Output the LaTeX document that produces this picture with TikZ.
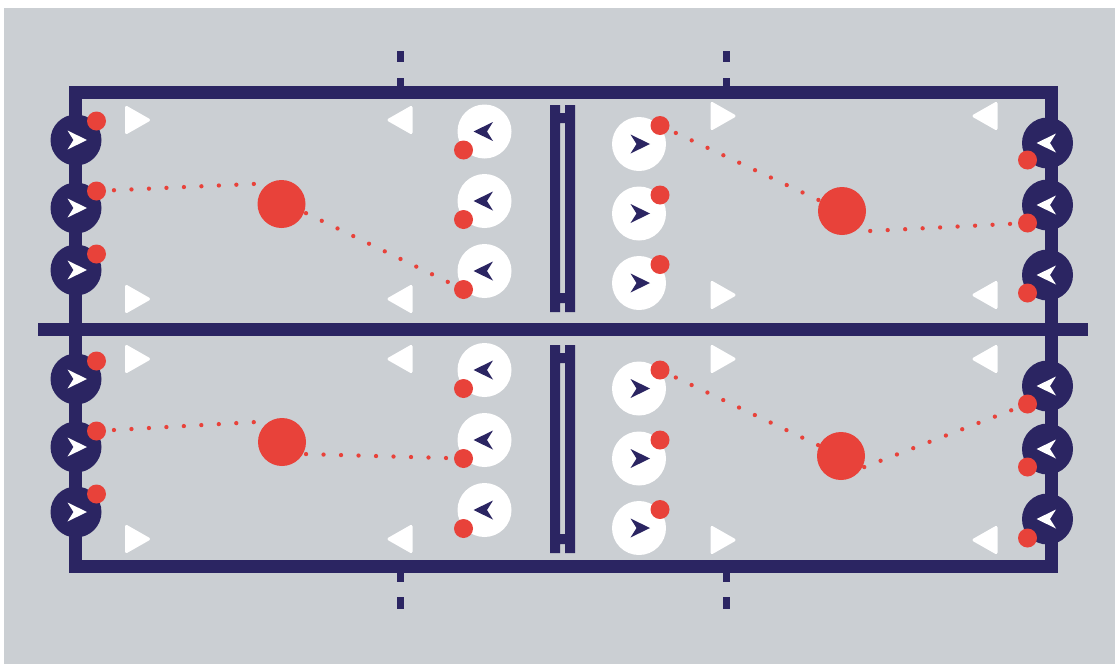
\documentclass[tikz,border=0pt]{standalone}
\definecolor{pitch}{HTML}{CBCFD3}
\definecolor{navy}{HTML}{2B2562}
\definecolor{hot}{HTML}{E8423A}
\pgfdeclarelayer{ground}
\pgfdeclarelayer{passes}
\pgfsetlayers{ground,passes,main}
\tikzset{
  fieldline/.style={draw=navy, line width=13pt},
  tickmark/.style={draw=navy, line width=7pt},
  darkplayer/.style={circle, fill=navy, minimum size=51pt, inner sep=0pt, outer sep=0pt},
  lightplayer/.style={circle, fill=white, minimum size=54pt, inner sep=0pt, outer sep=0pt},
  tag/.style={circle, fill=hot, minimum size=19pt, inner sep=0pt, outer sep=0pt},
  ball/.style={circle, fill=hot, minimum size=48pt, inner sep=0pt, outer sep=0pt},
  pass/.style={hot, line width=4.3pt, line cap=round, dash pattern=on 0pt off 17.5pt},
  cone/.style={fill=white, draw=white, line width=3pt, line join=round},
}
% facing arrow inside a player disc: #1 centre, #2 +1 right / -1 left, #3 colour
\newcommand\heading[3]{\fill[#3, shift={#1}, xscale=#2] (11,0) -- (-8.5,-9.5) -- (-2.5,0) -- (-8.5,9.5) -- cycle;}
% training cone seen from above: #1,#2 centre, #3 direction
\newcommand\conemark[3]{\filldraw[cone, shift={(#1,#2)}, xscale=#3] (-11,-12.5) -- (11,0) -- (-11,12.5) -- cycle;}

\begin{document}
\begin{tikzpicture}[x=1pt,y=-1pt]
\useasboundingbox (0,0) rectangle (1115,664);

\begin{pgfonlayer}{ground}
  \fill[pitch] (4,7.5) rectangle (1115,664);
  % outer boundary and halfway line
  \draw[fieldline] (75,92.5) rectangle (1051.5,566.5);
  \draw[fieldline] (38,329.5) -- (1088,329.5);
  % broken marks on the side lines
  \foreach \x in {400,726} {
    \draw[tickmark] (\x,51) -- (\x,62) (\x,78) -- (\x,87);
    \draw[tickmark] (\x,572) -- (\x,582) (\x,597) -- (\x,609);
  }
  % central nets
  \foreach \t/\b in {105/312, 345/553} {
    \fill[navy] (550,\t) rectangle (560,\b) (565,\t) rectangle (575,\b)
      (559,\t+8) rectangle (566,\t+18) (559,\b-19) rectangle (566,\b-9);
  }
\end{pgfonlayer}

% players on the left end line
\foreach \n/\y/\ty in {1/140/121, 2/208/191, 3/270/254, 4/379/361, 5/447/431, 6/512/494} {
  \node[darkplayer] (L\n) at (76,\y) {};
  \heading{(L\n)}{1}{white}
  \node[tag] (Lt\n) at (96.5,\ty) {};
}
% players on the right end line
\foreach \n/\y/\ty in {1/143/160, 2/205/223, 3/275/293, 4/386/404, 5/449/467, 6/519/538} {
  \node[darkplayer] (R\n) at (1047.5,\y) {};
  \heading{(R\n)}{-1}{white}
  \node[tag] (Rt\n) at (1027.5,\ty) {};
}
% players left of the nets
\foreach \n/\y in {1/131.5, 2/201, 3/271, 4/370, 5/440, 6/510} {
  \node[lightplayer] (A\n) at (484.5,\y) {};
  \heading{(A\n)}{-1}{navy}
  \node[tag] (At\n) at (463.5,\y+18.5) {};
}
% players right of the nets
\foreach \n/\y in {1/144, 2/213.5, 3/283, 4/388.5, 5/458.5, 6/528} {
  \node[lightplayer] (B\n) at (639,\y) {};
  \heading{(B\n)}{1}{navy}
  \node[tag] (Bt\n) at (660,\y-18.5) {};
}

% balls
\node[ball] (K1) at (281.5,204) {};
\node[ball] (K2) at (842,211) {};
\node[ball] (K3) at (282,442) {};
\node[ball] (K4) at (841,456) {};

% passing lanes
\begin{pgfonlayer}{passes}
  \draw[pass] (Lt2.center) -- (K1.120);
  \draw[pass] (At3.center) -- (K1.-20);
  \draw[pass] (Bt1.center) -- (K2.center);
  \draw[pass] (Rt2.center) -- (K2.-60);
  \draw[pass] (Lt5.center) -- (K3.120);
  \draw[pass] (At5.center) -- (K3.-30);
  \draw[pass] (Bt4.center) -- (K4.center);
  \draw[pass] (Rt4.center) -- (K4.-30);
\end{pgfonlayer}

% cones
\foreach \y in {120,299,359,539} {
  \conemark{137.5}{\y}{1}
  \conemark{400}{\y}{-1}
}
\foreach \y in {116,295,359,540} {
  \conemark{723}{\y}{1}
  \conemark{985}{\y}{-1}
}
\end{tikzpicture}
\end{document}
